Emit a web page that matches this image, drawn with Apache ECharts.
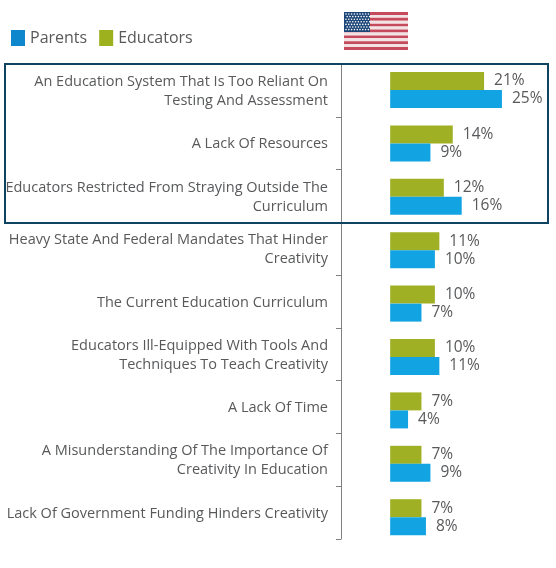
<!DOCTYPE html>
<html>
<head>
<meta charset="utf-8">
<style>
html,body{margin:0;padding:0;background:#fff;}
#chart{width:556px;height:568px;}
</style>
<script src="https://cdn.jsdelivr.net/npm/echarts@6/dist/echarts.min.js"></script>
</head>
<body>
<div id="chart"></div>
<script>
var categories = [
  "An Education System That Is Too Reliant On\nTesting And Assessment",
  "A Lack Of Resources",
  "Educators Restricted From Straying Outside The\nCurriculum",
  "Heavy State And Federal Mandates That Hinder\nCreativity",
  "The Current Education Curriculum",
  "Educators Ill-Equipped With Tools And\nTechniques To Teach Creativity",
  "A Lack Of Time",
  "A Misunderstanding Of The Importance Of\nCreativity In Education",
  "Lack Of Government Funding Hinders Creativity"
];
var educators = [21, 14, 12, 11, 10, 10, 7, 7, 7];
var parents = [25, 9, 16, 10, 7, 11, 4, 9, 8];

var textColor = "#58595b";
var fontName = "'Open Sans'";

(function() {
  var myChart = echarts.init(document.getElementById("chart"));

  // 国旗：13条横纹 + 左上角蓝底白点
  var flag = [];
  for (var i = 0; i < 13; i++) {
    flag.push({
      type: "rect",
      shape: { x: 344, y: 12 + i * 38 / 13, width: 64, height: 38 / 13 },
      style: { fill: i % 2 ? "#f4e3e5" : "#c44a5c" }
    });
  }
  flag.push({
    type: "rect",
    shape: { x: 344, y: 12, width: 26, height: 20 },
    style: { fill: "#1d4678" }
  });
  for (var r = 0; r < 7; r++) {
    for (var c = 0; c < 9; c++) {
      flag.push({
        type: "circle",
        shape: { cx: 346 + c * 2.8 + (r % 2 ? 1.2 : 0), cy: 14 + r * 2.6, r: 0.8 },
        style: { fill: "#fff" }
      });
    }
  }

  var option = {
    animation: false,
    textStyle: { fontFamily: fontName },
    legend: {
      left: 6,
      top: 25,
      itemWidth: 14,
      itemHeight: 16,
      itemGap: 12,
      itemStyle: { borderWidth: 0 },
      textStyle: { color: textColor, fontSize: 16, fontFamily: fontName },
      data: [
        { name: "Parents", icon: "rect", itemStyle: { color: "#0f87cc" } },
        { name: "Educators", icon: "rect", itemStyle: { color: "#9db01e" } }
      ]
    },
    // 原图柱子的间距比刻度略大，所以分两个grid：0画轴和文字，1画柱子
    grid: [
      { left: 341, top: 64, width: 183.3, height: 475 },
      { left: 341, top: 63.3, width: 183.3, height: 480.6 }
    ],
    xAxis: [
      { type: "value", gridIndex: 0, min: -11, max: 30, show: false },
      { type: "value", gridIndex: 1, min: -11, max: 30, show: false }
    ],
    yAxis: [
      {
        type: "category",
        gridIndex: 0,
        inverse: true,
        data: categories,
        axisLine: { onZero: false, lineStyle: { color: "#808080", width: 1 } },
        axisTick: { show: true, length: 5, lineStyle: { color: "#808080" } },
        axisLabel: {
          margin: 13,
          align: "right",
          padding: [2, 0, 0, 0],
          interval: 0,
          formatter: function(value) {
            return value.split("\n").map(function(s) {
              return "{t|" + s + "}";
            }).join("\n");
          },
          rich: {
            t: { color: textColor, fontSize: 14.5, fontFamily: fontName, lineHeight: 19 }
          }
        }
      },
      {
        type: "category",
        gridIndex: 1,
        inverse: true,
        data: categories,
        show: false
      }
    ],
    series: [
      {
        name: "Educators",
        type: "bar",
        xAxisIndex: 1,
        yAxisIndex: 1,
        data: educators,
        barWidth: 18,
        barGap: 0,
        itemStyle: { color: "#9fb025" },
        label: { show: true, position: "right", distance: 10, formatter: "{c}%", color: textColor, fontSize: 15.5, fontFamily: fontName }
      },
      {
        name: "Parents",
        type: "bar",
        xAxisIndex: 1,
        yAxisIndex: 1,
        data: parents,
        barWidth: 18,
        barGap: 0,
        itemStyle: { color: "#12a3e3" },
        label: { show: true, position: "right", distance: 10, formatter: "{c}%", color: textColor, fontSize: 15.5, fontFamily: fontName }
      }
    ],
    graphic: flag.concat([
      // 前三项的外框
      {
        type: "rect",
        shape: { x: 5, y: 64, width: 543, height: 159 },
        style: { fill: "none", stroke: "#0f4461", lineWidth: 2 },
        z: 10
      }
    ])
  };

  myChart.setOption(option);
  window.addEventListener("resize", function() {
    myChart.resize();
  });
})();
</script>
</body>
</html>
